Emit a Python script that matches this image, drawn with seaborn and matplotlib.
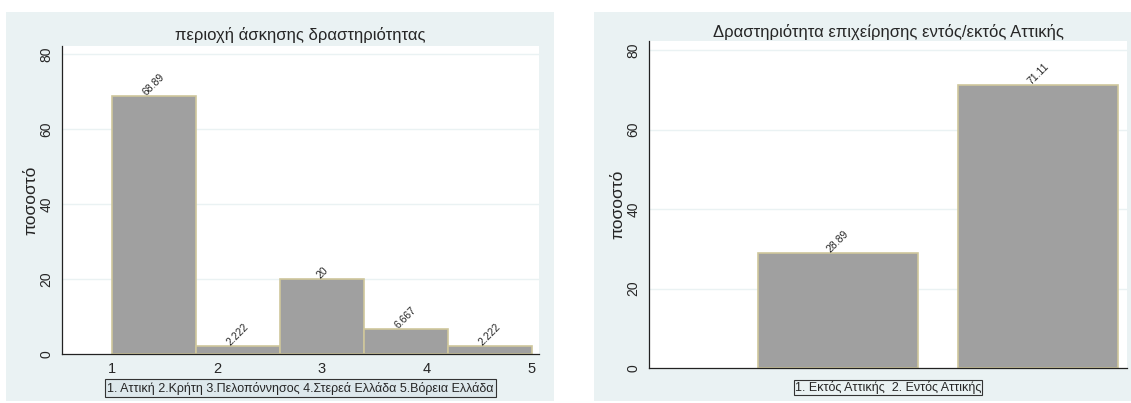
import numpy as np
import pandas as pd
import matplotlib
matplotlib.use("Agg")
import matplotlib.pyplot as plt
import seaborn as sns
from matplotlib.patches import Rectangle

# dados - painel esquerdo (histograma por região)
regioes = [1, 2, 3, 4, 5]
pct_regioes = [68.89, 2.222, 20, 6.667, 2.222]
rotulos_regioes = ["68.89", "2.222", "20", "6.667", "2.222"]
legenda_regioes = "1. Αττική 2.Κρήτη 3.Πελοπόννησος 4.Στερεά Ελλάδα 5.Βόρεια Ελλάδα"
titulo_regioes = "περιοχή άσκησης δραστηριότητας"

# dados - painel direito (dentro/fora da Ática)
categorias = ["1. Εκτός Αττικής", "2. Εντός Αττικής"]
pct_categorias = [28.89, 71.11]
rotulos_categorias = ["28.89", "71.11"]
legenda_categorias = "1. Εκτός Αττικής  2. Εντός Αττικής"
titulo_categorias = "Δραστηριότητα επιχείρησης εντός/εκτός Αττικής"

yticks = [0, 20, 40, 60, 80]

sns.set_style("white")
plt.rcParams["font.family"] = ["Liberation Sans", "DejaVu Sans"]

W, H = 1131, 403
fig = plt.figure(figsize=(W / 100, H / 100), dpi=100, facecolor="white")

cor_fundo = "#EAF2F3"
cor_barra = "#A0A0A0"
cor_borda = "#CFC79C"

# fundos dos painéis (estilo Stata)
fig.patches.append(Rectangle((6 / W, 1 - 401 / H), 548 / W, 389 / H,
                             transform=fig.transFigure, fc=cor_fundo, ec="none", zorder=-10))
fig.patches.append(Rectangle((594 / W, 1 - 401 / H), 537 / W, 389 / H,
                             transform=fig.transFigure, fc=cor_fundo, ec="none", zorder=-10))

ax1 = fig.add_axes([62 / W, 1 - 354 / H, 477 / W, 308 / H])
ax2 = fig.add_axes([649 / W, 1 - 368 / H, 478 / W, 327 / H])


def estilo(ax, ytop):
    ax.set_facecolor("white")
    ax.set_ylim(0, ytop)
    ax.set_yticks(yticks)
    ax.set_yticklabels([str(v) for v in yticks], rotation=90, va="center", fontsize=10)
    for v in yticks[1:]:
        ax.axhline(v, color=cor_fundo, lw=1, zorder=0)
    for s in ["top", "right"]:
        ax.spines[s].set_visible(False)
    for s in ["left", "bottom"]:
        ax.spines[s].set_color("#222222")
        ax.spines[s].set_linewidth(0.9)
    ax.tick_params(axis="both", direction="out", length=4, width=0.8, color="#222222", pad=2)
    ax.set_ylabel("ποσοστό", fontsize=12.5, labelpad=1)


# painel esquerdo
df1 = pd.DataFrame({"regiao": regioes, "pct": pct_regioes})
sns.histplot(data=df1, x="regiao", weights="pct", bins=5, binrange=(1, 5),
             color=cor_barra, alpha=1, edgecolor=cor_borda, linewidth=1.2, ax=ax1)
estilo(ax1, 82.1)
ax1.set_xlim(0.524, 5.067)
ax1.set_xticks(regioes)
ax1.set_xticklabels([str(r) for r in regioes], fontsize=10.5)
ax1.set_xlabel("")
ax1.bar_label(ax1.containers[0], labels=rotulos_regioes, rotation=45, fontsize=7.5, padding=-1)
ax1.set_title(titulo_regioes, fontsize=12, pad=4)
ax1.text(0.5, -0.112, legenda_regioes, transform=ax1.transAxes, ha="center", va="center",
         fontsize=9, bbox=dict(boxstyle="square,pad=0.2", fc="#DDE8EC", ec="#333333", lw=0.8))

# painel direito
df2 = pd.DataFrame({"cat": categorias, "pct": pct_categorias})
sns.barplot(data=df2, x="cat", y="pct", order=categorias, width=0.8,
            color=cor_barra, saturation=1, edgecolor=cor_borda, linewidth=1.2, ax=ax2)
estilo(ax2, 82.3)
ax2.set_xlim(-0.945, 1.445)
ax2.set_xticks([-0.5, 1.0])
ax2.set_xticklabels(["", ""])
ax2.set_xlabel("")
ax2.bar_label(ax2.containers[0], labels=rotulos_categorias, rotation=45, fontsize=7.5, padding=-1)
ax2.set_title(titulo_categorias, fontsize=12, pad=3)
ax2.text(0.5, -0.06, legenda_categorias, transform=ax2.transAxes, ha="center", va="center",
         fontsize=9, bbox=dict(boxstyle="square,pad=0.1", fc=cor_fundo, ec="#333333", lw=0.8))

fig.savefig("out.png", dpi=100, facecolor="white")
